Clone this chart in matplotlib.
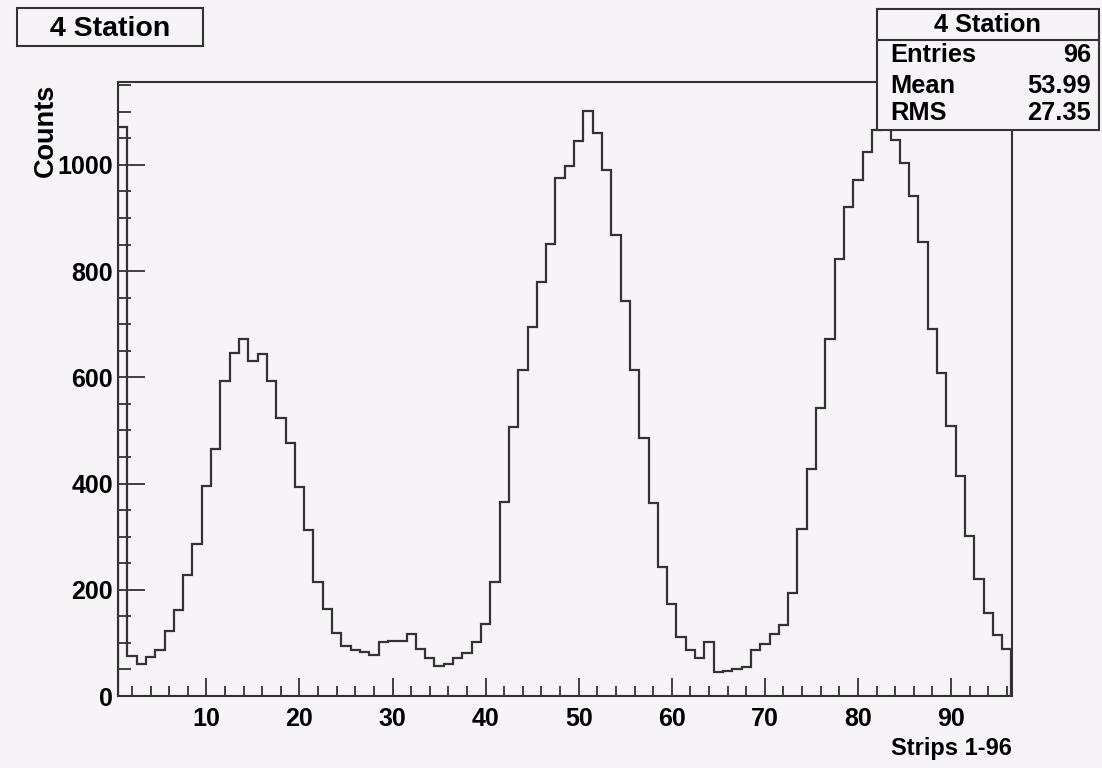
import numpy as np
import matplotlib
matplotlib.use("Agg")
import matplotlib.pyplot as plt
from matplotlib.patches import Rectangle
from matplotlib.lines import Line2D
from matplotlib.ticker import MultipleLocator

# Counts per strip (strips 1-96)
strips = np.arange(1, 97)
counts = [
    1071, 75, 60, 73, 87, 122, 161, 228, 287, 396,
    465, 593, 645, 672, 630, 644, 593, 523, 477, 393,
    313, 215, 163, 119, 94, 87, 83, 78, 102, 103,
    104, 116, 89, 72, 57, 61, 72, 81, 101, 136,
    215, 365, 507, 614, 694, 779, 851, 975, 998, 1045,
    1101, 1060, 991, 868, 744, 614, 486, 363, 243, 173,
    111, 86, 72, 101, 45, 48, 51, 55, 86, 97,
    117, 133, 194, 314, 427, 542, 672, 822, 921, 971,
    1025, 1065, 1088, 1047, 1004, 941, 855, 691, 609, 509,
    415, 302, 221, 156, 114, 89,
]
hist_title = "4 Station"
x_title = "Strips 1-96"
y_title = "Counts"
stats_rows = [("Entries", "96"), ("Mean", "53.99"), ("RMS", "27.35")]

BG = "#f8f3f8"
INK = "#333333"
plt.rcParams["font.family"] = ["Liberation Sans", "DejaVu Sans"]
plt.rcParams["font.weight"] = "bold"

W, H = 1102, 768
fig = plt.figure(figsize=(W / 100, H / 100), dpi=100, facecolor=BG)

L, R, T, B = 118, 1011.5, 82, 696
ax = fig.add_axes([L / W, 1 - B / H, (R - L) / W, (B - T) / H], facecolor=BG)

edges = np.append(strips - 0.5, strips[-1] + 0.5)
ax.stairs(counts, edges, color=INK, linewidth=1.6, baseline=0)

ax.set_xlim(edges[0], edges[-1])
ax.set_ylim(0, 1.05 * max(counts))

ax.xaxis.set_major_locator(MultipleLocator(10))
ax.xaxis.set_minor_locator(MultipleLocator(2))
ax.yaxis.set_major_locator(MultipleLocator(200))
ax.yaxis.set_minor_locator(MultipleLocator(50))

ax.tick_params(axis="x", which="major", direction="in", length=13, width=1.3,
               color=INK, pad=8, labelsize=18)
ax.tick_params(axis="x", which="minor", direction="in", length=7, width=1.3, color=INK)
ax.tick_params(axis="y", which="major", direction="in", length=19.5, width=1.3,
               color=INK, pad=3.5, labelsize=18)
ax.tick_params(axis="y", which="minor", direction="in", length=9.5, width=1.3, color=INK)
for lab in ax.get_xticklabels() + ax.get_yticklabels():
    lab.set_fontweight("bold")

for s in ax.spines.values():
    s.set_color(INK)
    s.set_linewidth(1.5)

# axis titles placed at the end of each axis
fig.text(R / W, 1 - 748 / H, x_title, ha="right", va="center",
         fontsize=17, fontweight="bold")
fig.text(46 / W, 1 - 84 / H, y_title, ha="center", va="top", rotation=90,
         fontsize=19.5, fontweight="bold")

# title pave
def fig_box(x0, y0, x1, y1, z=5):
    r = Rectangle((x0 / W, 1 - y1 / H), (x1 - x0) / W, (y1 - y0) / H,
                  transform=fig.transFigure, facecolor=BG, edgecolor=INK,
                  linewidth=1.5, zorder=z)
    fig.add_artist(r)

fig_box(17, 8, 203, 46)
fig.text(110 / W, 1 - 36 / H, hist_title, ha="center", va="baseline",
         fontsize=20.5, fontweight="bold", zorder=6)

# statistics box
sx0, sy0, sx1, sy1 = 877, 9, 1099, 130
fig_box(sx0, sy0, sx1, sy1, z=10)
fig.add_artist(Line2D([sx0 / W, sx1 / W], [1 - 39.5 / H, 1 - 39.5 / H],
                      transform=fig.transFigure, color=INK, linewidth=1.5, zorder=11))
fig.text((sx0 + sx1) / 2 / W, 1 - 31.7 / H, hist_title, ha="center", va="baseline",
         fontsize=18.3, fontweight="bold", zorder=12)
for (name, val), base in zip(stats_rows, [62.3, 93, 120]):
    fig.text(890.5 / W, 1 - base / H, name, ha="left", va="baseline",
             fontsize=18.3, fontweight="bold", zorder=12)
    fig.text(1091 / W, 1 - base / H, val, ha="right", va="baseline",
             fontsize=18.3, fontweight="bold", zorder=12)

fig.savefig("out.png", dpi=100, facecolor=BG)
